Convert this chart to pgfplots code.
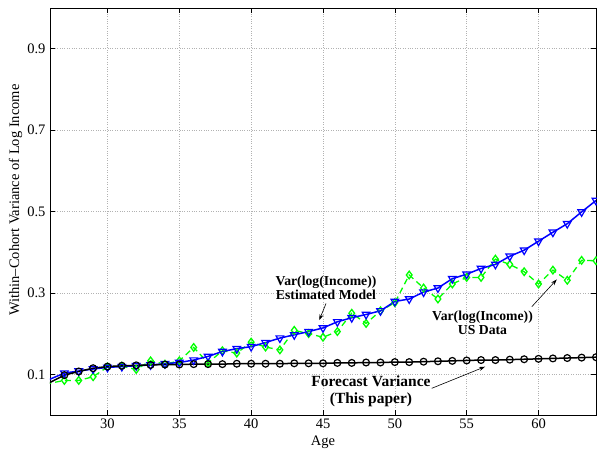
\documentclass[border=0pt]{standalone}
\usepackage{fontspec}
\setmainfont{Liberation Serif}
\usepackage{pgfplots}
\pgfplotsset{compat=1.18}
\usepackage{pgfplotstable}
\usetikzlibrary{arrows.meta}

\pgfplotstableread{
age black blue green
25 0.055 0.075 0.070
26 0.080 0.088 0.078
27 0.098 0.103 0.085
28 0.107 0.108 0.085
29 0.115 0.113 0.094
30 0.119 0.117 0.118
31 0.121 0.119 0.120
32 0.122 0.121 0.112
33 0.123 0.123 0.133
34 0.124 0.126 0.125
35 0.124 0.129 0.133
36 0.125 0.135 0.166
37 0.125 0.144 0.128
38 0.125 0.156 0.158
39 0.126 0.163 0.152
40 0.126 0.168 0.179
41 0.126 0.178 0.167
42 0.126 0.189 0.160
43 0.127 0.197 0.208
44 0.127 0.205 0.200
45 0.127 0.214 0.191
46 0.128 0.229 0.205
47 0.128 0.239 0.250
48 0.129 0.247 0.225
49 0.129 0.256 0.256
50 0.130 0.279 0.276
51 0.130 0.285 0.344
52 0.131 0.302 0.312
53 0.132 0.312 0.285
54 0.133 0.335 0.322
55 0.134 0.346 0.338
56 0.135 0.360 0.338
57 0.135 0.370 0.383
58 0.136 0.390 0.370
59 0.137 0.405 0.352
60 0.138 0.427 0.322
61 0.139 0.449 0.356
62 0.140 0.470 0.331
63 0.141 0.499 0.380
64 0.142 0.527 0.379
}\datatab

\definecolor{mgreen}{rgb}{0,1,0}
\definecolor{mblue}{rgb}{0,0,1}

\begin{document}
\begin{tikzpicture}
\useasboundingbox (0,0) rectangle (597pt,451pt);
\begin{axis}[
  at={(50pt,36pt)}, anchor=south west,
  scale only axis, width=546pt, height=407pt,
  xmin=26, xmax=64, ymin=0, ymax=1,
  xtick={30,35,40,45,50,55,60},
  xticklabels={30,35,40,45,50,55,60},
  ytick={0.1,0.3,0.5,0.7,0.9},
  yticklabels={0.1,0.3,0.5,0.7,0.9},
  /pgf/number format/assume math mode=true,
  tick label style={font=\fontsize{14.5}{16}\selectfont, black},
  yticklabel style={xshift=-1pt},
  label style={font=\fontsize{14.5}{16}\selectfont},
  tick align=inside, major tick length=5pt,
  tick style={black, line width=0.6pt},
  axis line style={black, line width=0.8pt},
  grid=major,
  grid style={dotted, gray!60, line width=0.6pt},
  xlabel={Age},
  ylabel={Within--Cohort Variance of Log Income},
  xlabel style={at={(axis description cs:0.5,-0.068)}, anchor=center},
  ylabel style={at={(axis description cs:-0.063,0.528)}, anchor=center},
  clip=true,
]
\addplot[mgreen, line width=1.3pt, dash pattern=on 6pt off 4pt,
  mark=diamond, mark size=3.8pt, mark indices={2,...,39},
  mark options={solid, line width=1.3pt}]
  table[x=age, y=green] {\datatab};
\addplot[mblue, line width=1.5pt,
  mark=triangle, mark size=4.4pt, mark indices={2,...,39},
  mark options={solid, rotate=180, line width=1.2pt}]
  table[x=age, y=blue] {\datatab};
\addplot[black, line width=1.5pt,
  mark=o, mark size=3.4pt, mark indices={2,...,39},
  mark options={solid, line width=1.2pt}]
  table[x=age, y=black] {\datatab};

\node[font=\bfseries\fontsize{13.7}{14.3}\selectfont, align=center] at (axis cs:45.21,0.312)
  {Var(log(Income))\\Estimated Model};
\draw[line width=0.6pt, -{Stealth[length=6pt,width=4pt]}] (axis cs:45.21,0.274) -- (axis cs:44.74,0.233);

\node[font=\bfseries\fontsize{13.7}{14.3}\selectfont, align=center] at (axis cs:56.10,0.2265)
  {Var(log(Income))\\US Data};
\draw[line width=0.6pt, -{Stealth[length=6pt,width=4pt]}] (axis cs:59.53,0.266) -- (axis cs:61.27,0.333);

\node[font=\bfseries\fontsize{15.5}{17.3}\selectfont, align=center] at (axis cs:48.34,0.058)
  {Forecast Variance\\(This paper)};
\draw[line width=0.6pt, -{Stealth[length=6pt,width=4pt]}] (axis cs:52.57,0.0656) -- (axis cs:56.28,0.1187);
\end{axis}
\end{tikzpicture}
\end{document}
